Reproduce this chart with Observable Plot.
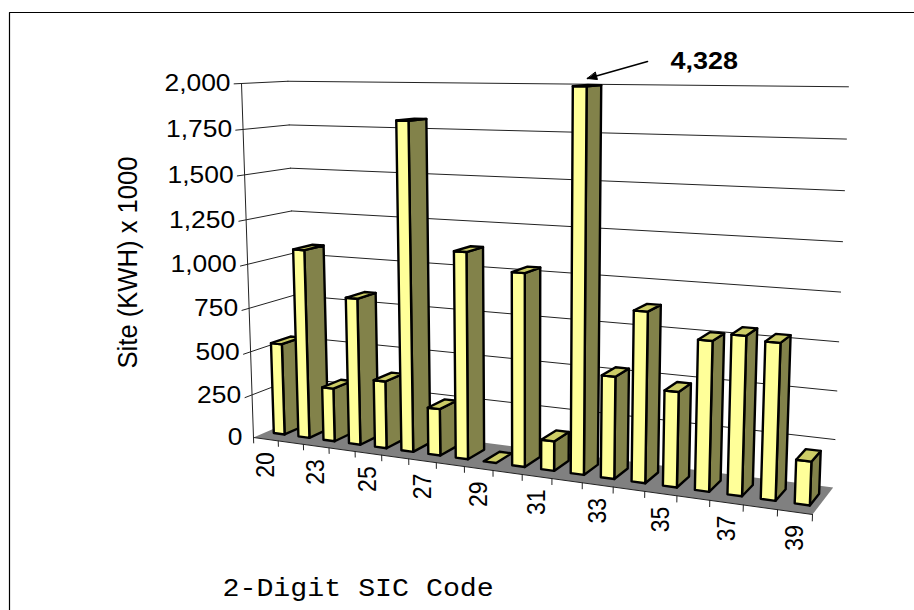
<!DOCTYPE html>
<html><head><meta charset="utf-8">
<style>html,body{margin:0;padding:0;background:#fff}svg{display:block}</style>
<script src="https://cdn.jsdelivr.net/npm/d3@7"></script>
<script src="https://cdn.jsdelivr.net/npm/@observablehq/plot@0.6"></script>
</head><body><script>
// data
const sicCodes = [20,22,23,24,25,26,27,28,29,30,31,32,33,34,35,36,37,38,39];
const siteKwh  = [530,1080,305,830,380,1810,260,1130,0,1040,160,4328,540,890,495,770,810,790,220];
const yTicks   = [0,250,500,750,1000,1250,1500,1750,2000];
const yMax = 2000;

// oblique perspective view of the (category, depth, value) box
const O=[253,437], Pu=[812,514], Pw=[297,418], Pv=[241,83];
const g=-0.167, h=0.05, i=-0.042;
function proj(u,w,v){
  const d=1+g*u+h*w+i*v;
  const f=k=>(O[k]+u*((1+g)*Pu[k]-O[k])+w*((1+h)*Pw[k]-O[k])+v*((1+i)*Pv[k]-O[k]))/d;
  return [f(0),f(1)];
}
const n=sicCodes.length;
const U=c=>c/n, V=val=>Math.min(val,yMax)/yMax;
const wf=0.28, wb=0.72, barLeft=0.31, barRight=0.75;

const FRONT="#ffff99", SIDE="#82824a", TOP="#cccc66", FLOOR="#808080";
const polys=[];
function poly(id,fill,pts){pts.forEach(p=>{const [x,y]=proj(...p);polys.push({id,fill,x,y});});}
siteKwh.forEach((val,c)=>{
  const a=U(c+barLeft), b=U(c+barRight), t=V(val);
  if(t>0){
    poly("s"+c,SIDE,[[b,wf,0],[b,wb,0],[b,wb,t],[b,wf,t]]);
    poly("f"+c,FRONT,[[a,wf,0],[b,wf,0],[b,wf,t],[a,wf,t]]);
  }
  poly("t"+c,TOP,[[a,wf,t],[b,wf,t],[b,wb,t],[a,wb,t]]);
});
const floor=[[0,0,0],[1,0,0],[1,1,0],[0,1,0]].map(p=>{const [x,y]=proj(...p);return {x,y};});
const segs=[];
function seg(id,a,b){[a,b].forEach(p=>{const [x,y]=proj(...p);segs.push({id,x,y});});}
yTicks.forEach(t=>{
  const v=V(t);
  if(t>0){seg("gl"+t,[0,-0.15,v],[0,1,v]);seg("gb"+t,[0,1,v],[1,1,v]);}
});
seg("wa",[0,0,0],[0,0,1]);
seg("front",[0,0,0],[1,0,0]);
for(let c=0;c<=n;c++){seg("t"+c,[U(c),0,0],[U(c),0,-0.016]);}

const yLabels=yTicks.map(t=>{const [x,y]=proj(0,0,V(t));return {x,y,label:d3.format(",")(t)};});
const xLabels=sicCodes.map((s,c)=>({s,c})).filter(d=>d.c%2==0).map(d=>{
  const [x,y]=proj(U(d.c+.5),0,0);return {x,y,label:String(d.s)};});

// arrow pointing at the clipped bar
const tail={x:647,y:61}, tip={x:587,y:78};
const ang=Math.atan2(tail.y-tip.y,tail.x-tip.x);
const head=[tip,
  {x:tip.x+10*Math.cos(ang+.38),y:tip.y+10*Math.sin(ang+.38)},
  {x:tip.x+10*Math.cos(ang-.38),y:tip.y+10*Math.sin(ang-.38)}];

const chart=Plot.plot({
  width:914,height:610,margin:0,
  x:{domain:[0,914],range:[0,914],axis:null},
  y:{domain:[0,610],range:[0,610],axis:null},
  style:{background:"#fff",fontFamily:"'Liberation Sans',Arial,sans-serif"},
  marks:[
    Plot.line([{x:9,y:610},{x:9,y:12},{x:914,y:12}],{x:"x",y:"y",stroke:"#000",strokeWidth:1.2}),
    Plot.line(floor,{x:"x",y:"y",fill:FLOOR,stroke:"none",curve:"linear-closed"}),
    Plot.line(segs,{x:"x",y:"y",z:"id",stroke:"#222",strokeWidth:1}),
    Plot.line(polys,{x:"x",y:"y",z:"id",fill:"fill",stroke:"#000",strokeWidth:2.4,strokeLinejoin:"round",curve:"linear-closed"}),
    Plot.text(yLabels,{x:"x",y:"y",text:"label",textAnchor:"end",dx:-11,fontSize:24,fill:"#000"}),
    Plot.text(xLabels,{x:"x",y:"y",text:"label",rotate:-90,textAnchor:"end",dy:13,fontSize:23,fill:"#000"}),
    Plot.text(["Site (KWH) x 1000"],{x:()=>127,y:()=>262,text:d=>d,rotate:-90,fontSize:25.6,fill:"#000"}),
    Plot.text(["2-Digit SIC Code"],{x:()=>222,y:()=>587,text:d=>d,textAnchor:"start",fontSize:25.7,fontFamily:"'Liberation Mono',monospace",fill:"#000"}),
    Plot.text(["4,328"],{x:()=>670,y:()=>61,text:d=>d,textAnchor:"start",fontSize:24.5,fontWeight:"bold",fill:"#000"}),
    Plot.line([tail,tip],{x:"x",y:"y",stroke:"#000",strokeWidth:1.6}),
    Plot.line(head,{x:"x",y:"y",fill:"#000",stroke:"#000",strokeWidth:1,curve:"linear-closed"})
  ]
});
document.body.appendChild(chart);
// the reference's lettering is stretched sideways by about a tenth
d3.select(chart).selectAll("text").each(function(){
  const tr=this.getAttribute("transform")||"";
  const m=tr.match(/translate\(([-\d.]+)[, ]/);
  const ax=this.hasAttribute("x")?+this.getAttribute("x"):(m?+m[1]:0);
  this.setAttribute("transform",`translate(${ax},0) scale(1.1,1) translate(${-ax},0) ${tr}`);
});
</script></body></html>
